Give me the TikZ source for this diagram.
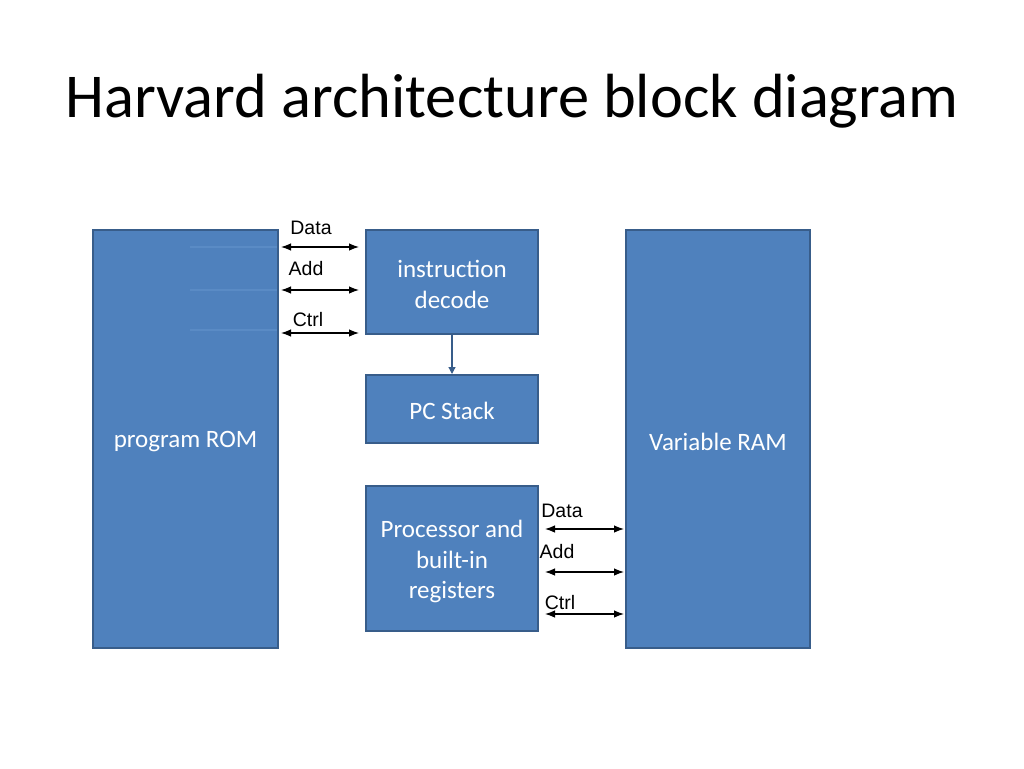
\documentclass[tikz,border=0pt]{standalone}
\usepackage{fontspec}
\setmainfont{Carlito}
\newfontfamily\arialfont{Liberation Sans}
\usetikzlibrary{arrows.meta}
\definecolor{boxfill}{HTML}{4F81BD}
\definecolor{boxline}{HTML}{385D8A}
\definecolor{faint}{HTML}{5A8BC5}
\begin{document}
\begin{tikzpicture}[x=1pt,y=-1pt,
  blockbox/.style={draw=boxline,line width=2pt,fill=boxfill,inner sep=0pt},
  boxtext/.style={text=white,font=\fontsize{25}{30.5}\selectfont,align=center,inner sep=0pt},
  busarrow/.style={{Latex[length=10pt,width=7.5pt]}-{Latex[length=10pt,width=7.5pt]},line width=1.2pt,black},
  buslabel/.style={font=\arialfont\fontsize{19.5}{22}\selectfont,inner sep=0pt},
  faintline/.style={draw=faint,line width=1.2pt}]
\useasboundingbox (0,0) rectangle (1024,768);
\node (title) at (512,101) {\fontsize{62.4}{70}\selectfont Harvard architecture block diagram};
% boxes
\node[blockbox,minimum width=185pt,minimum height=418pt] (rom) at (185.5,439) {};
\node[blockbox,minimum width=172pt,minimum height=104pt] (dec) at (452,282) {};
\node[blockbox,minimum width=172pt,minimum height=68pt] (pc) at (452,409) {};
\node[blockbox,minimum width=172pt,minimum height=145pt] (proc) at (452,558.5) {};
\node[blockbox,minimum width=184pt,minimum height=418pt] (ram) at (718,439) {};
\node[boxtext] (romt) at ([yshift=-3pt]rom.center) {program ROM};
\node[boxtext] (dect) at ([yshift=-2.5pt]dec.center) {instruction\\decode};
\node[boxtext] (pct) at ([yshift=-1.5pt]pc.center) {PC Stack};
\node[boxtext] (proct) at ([yshift=-3pt]proc.center) {Processor and\\built-in\\registers};
\node[boxtext] (ramt) at ([yshift=-2.5pt]ram.center) {Variable RAM};
% faint inner lines
\coordinate (l1) at (190,247); \coordinate (l1e) at (277,247);
\coordinate (l2) at (190,290); \coordinate (l2e) at (277,290);
\coordinate (l3) at (190,330); \coordinate (l3e) at (277,330);
\draw[faintline] (l1) -- (l1e); \draw[faintline] (l2) -- (l2e); \draw[faintline] (l3) -- (l3e);
% left bus arrows
\coordinate (a1s) at (281,247); \coordinate (a1e) at (359,247);
\coordinate (a2s) at (281,290); \coordinate (a2e) at (359,290);
\coordinate (a3s) at (281,333); \coordinate (a3e) at (359,333);
\draw[busarrow] (a1s) -- (a1e);
\draw[busarrow] (a2s) -- (a2e);
\draw[busarrow] (a3s) -- (a3e);
\node[buslabel] (ld) at (311,228) {Data};
\node[buslabel] (la) at (306,269) {Add};
\node[buslabel] (lc) at (308,320) {Ctrl};
% right bus arrows
\coordinate (b1s) at (545,529); \coordinate (b1e) at (624,529);
\coordinate (b2s) at (545,572); \coordinate (b2e) at (624,572);
\coordinate (b3s) at (545,614); \coordinate (b3e) at (624,614);
\draw[busarrow] (b1s) -- (b1e);
\draw[busarrow] (b2s) -- (b2e);
\draw[busarrow] (b3s) -- (b3e);
\node[buslabel] (rd) at (562,511) {Data};
\node[buslabel] (ra) at (557,552) {Add};
\node[buslabel] (rc) at (560,603) {Ctrl};
% decode to PC stack
\draw[boxline,line width=1.2pt,-{Triangle[length=7pt,width=7pt]}] (dec.south) -- (pc.north);
\end{tikzpicture}
\end{document}
